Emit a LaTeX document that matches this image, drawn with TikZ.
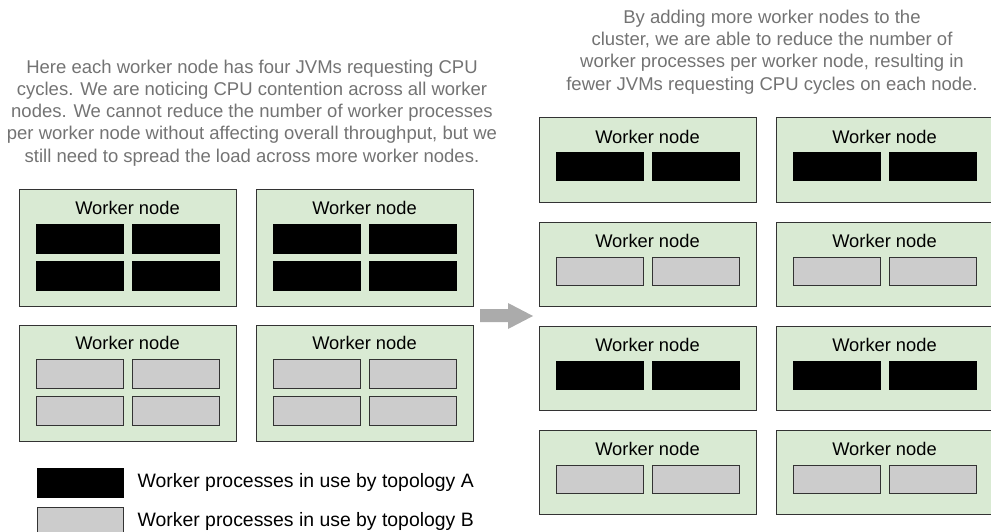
\documentclass[tikz,border=0pt]{standalone}
\usepackage{fontspec}
\setmainfont{Liberation Sans}
\usetikzlibrary{positioning, calc}
\definecolor{nodegreen}{HTML}{D9EAD3}
\definecolor{procgray}{HTML}{CCCCCC}
\definecolor{arrowgray}{HTML}{ABABAB}
\definecolor{txtgray}{HTML}{737373}
\definecolor{edgegray}{HTML}{333333}

\begin{document}
\begin{tikzpicture}[x=1pt, y=-1pt,
    worker/.style={draw=edgegray, fill=nodegreen, line width=1pt, inner sep=0, minimum width=217},
    procA/.style={draw=black, fill=black, line width=1pt, inner sep=0, minimum width=87, minimum height=28},
    procB/.style={draw=edgegray, fill=procgray, line width=1pt, inner sep=0, minimum width=87, minimum height=28},
    caption/.style={text=txtgray, align=center, inner sep=0, font=\fontsize{18.5}{22.2}\selectfont},
    title/.style={inner sep=0, font=\fontsize{18.3}{22}\selectfont},
    keytext/.style={inner sep=0, font=\fontsize{19.4}{23}\selectfont}]
    \useasboundingbox (0,0) rectangle (991,532);

    % Notes above both clusters
    \node[caption] (leftnote) at (252,113) {Here each worker node has four JVMs requesting CPU\\
        cycles. We are noticing CPU contention across all worker\\
        nodes. We cannot reduce the number of worker processes\\
        per worker node without affecting overall throughput, but we\\
        still need to spread the load across more worker nodes.};
    \node[caption] (rightnote) at (772,52) {By adding more worker nodes to the\\
        cluster, we are able to reduce the number of\\
        worker processes per worker node, resulting in\\
        fewer JVMs requesting CPU cycles on each node.};

    % Left cluster: four JVMs per worker node
    \foreach \w/\x/\y/\p in {L1/127.5/248/procA, L2/364.5/248/procA, L3/127.5/383/procB, L4/364.5/383/procB} {
        \node[worker, minimum height=116] (\w) at (\x,\y) {};
        \node[title] (\w-lbl) at ($(\w)+(0,-40)$) {Worker node};
        \node[\p, minimum height=29] (\w-a) at ($(\w)+(-48,-9.5)$) {};
        \node[\p, minimum height=29] (\w-b) at ($(\w)+(48.5,-9.5)$) {};
        \node[\p, minimum height=29] (\w-c) at ($(\w)+(-48,27.5)$) {};
        \node[\p, minimum height=29] (\w-d) at ($(\w)+(48.5,27.5)$) {};
    }

    % Block arrow
    \fill[arrowgray] (480,309) -- (508,309) -- (508,303) -- (533,316) -- (508,329) -- (508,322) -- (480,322) -- cycle;

    % Right cluster: two JVMs per worker node
    \foreach \w/\x/\y/\p in {R1/647.5/160/procA, R2/884.5/160/procA, R3/647.5/264/procB, R4/884.5/264/procB,
                             R5/647.5/368/procA, R6/884.5/368/procA, R7/647.5/472/procB, R8/884.5/472/procB} {
        \node[worker, minimum height=84] (\w) at (\x,\y) {};
        \node[title] (\w-lbl) at ($(\w)+(0,-23)$) {Worker node};
        \node[\p] (\w-a) at ($(\w)+(-48,7)$) {};
        \node[\p] (\w-b) at ($(\w)+(48,7)$) {};
    }

    % Legend
    \node[procA, minimum width=86, minimum height=29] (keyA) at (80,482.5) {};
    \node[keytext, right=14pt of keyA] (keyA-lbl) {Worker processes in use by topology A};
    \node[procB, minimum width=86, minimum height=29] (keyB) at (80,521.5) {};
    \node[keytext, right=14pt of keyB] (keyB-lbl) {Worker processes in use by topology B};
\end{tikzpicture}
\end{document}
